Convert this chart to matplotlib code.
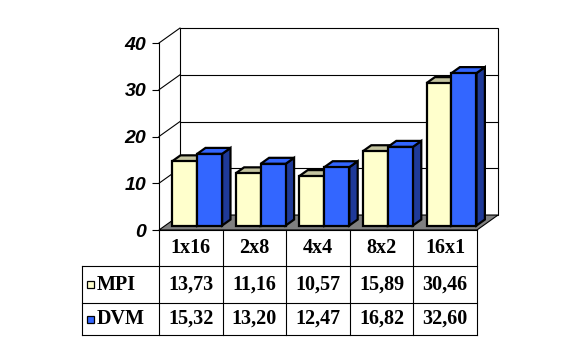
import matplotlib.pyplot as plt
from matplotlib.patches import Polygon, Rectangle
import numpy as np

categories = ['1x16', '2x8', '4x4', '8x2', '16x1']
series = ['MPI', 'DVM']
mpi = [13.73, 11.16, 10.57, 15.89, 30.46]
dvm = [15.32, 13.20, 12.47, 16.82, 32.60]
labels_mpi = ['13,73', '11,16', '10,57', '15,89', '30,46']
labels_dvm = ['15,32', '13,20', '12,47', '16,82', '32,60']
yticks = [0, 10, 20, 30, 40]

front = {'MPI': '#ffffcc', 'DVM': '#3366ff'}
top = {'MPI': '#c4c4a0', 'DVM': '#3366ff'}
side = {'MPI': '#9c9c7a', 'DVM': '#1f3a99'}

fig = plt.figure(figsize=(5.8, 3.62), dpi=100)
ax = fig.add_axes([159 / 580, 1 - 230 / 362, 318 / 580, 187 / 362])
ax.set_xlim(0, 5)
ax.set_ylim(0, 40)
ax.set_facecolor('none')

DX, DY = 0.33, 3.2   # depth of the plot box
d0, d1 = 0.3, 0.7    # bar depth within the box
bw = 0.393

# walls and floor
ax.add_patch(Rectangle((DX, DY), 5, 40, facecolor='white', edgecolor='black', lw=0.8, zorder=0, clip_on=False))
ax.add_patch(Polygon([(0, 0), (5, 0), (5 + DX, DY), (DX, DY)], closed=True,
                     facecolor='#808080', edgecolor='black', lw=0.8, zorder=1, clip_on=False))
for v in yticks[1:]:
    ax.plot([0, DX], [v, v + DY], color='black', lw=0.8, zorder=1, clip_on=False)
    if v < 40:
        ax.plot([DX, 5 + DX], [v + DY, v + DY], color='black', lw=0.8, zorder=1, clip_on=False)

# bars
for i in range(len(categories)):
    x0 = i + (1 - 2 * bw) / 2
    for j, (name, vals) in enumerate(zip(series, [mpi, dvm])):
        h = vals[i]
        bx = x0 + j * bw + d0 * DX
        by = d0 * DY
        ddx = (d1 - d0) * DX
        ddy = (d1 - d0) * DY
        kw = dict(edgecolor='black', lw=1.6, joinstyle='miter', zorder=3 + j, clip_on=False)
        ax.add_patch(Polygon([(bx + bw, by), (bx + bw + ddx, by + ddy), (bx + bw + ddx, by + h + ddy), (bx + bw, by + h)],
                             closed=True, facecolor=side[name], **kw))
        ax.add_patch(Polygon([(bx, by + h), (bx + bw, by + h), (bx + bw + ddx, by + h + ddy), (bx + ddx, by + h + ddy)],
                             closed=True, facecolor=top[name], **kw))
        ax.add_patch(Rectangle((bx, by), bw, h, facecolor=front[name], **kw))

# axis
for s in ['top', 'right', 'bottom']:
    ax.spines[s].set_visible(False)
ax.spines['left'].set_linewidth(0.8)
ax.set_xticks([])
ax.set_yticks(yticks)
ax.tick_params(axis='y', direction='out', length=5, width=0.8, pad=4)
for t in ax.get_yticklabels():
    t.set_fontfamily('Liberation Sans')
    t.set_fontweight('bold')
    t.set_fontstyle('italic')
    t.set_fontsize(14)

# data table below
ky = 187 / 40
r1, r2, r3 = -36 / ky, -73 / ky, -105 / ky
xl = -77 / 63.6
lk = dict(color='black', lw=0.8, clip_on=False)
ax.plot([0, 5], [0, 0], **lk)
for k in range(6):
    ax.plot([k, k], [0, r3], **lk)
for r in [r1, r2, r3]:
    ax.plot([xl, 5], [r, r], **lk)
ax.plot([xl, xl], [r1, r3], **lk)

tk = dict(fontfamily='Liberation Serif', fontweight='bold', fontsize=14.5, ha='center', va='center', clip_on=False)
for k, c in enumerate(categories):
    ax.text(k + 0.5, r1 / 2, c, **tk)
    ax.text(k + 0.5, (r1 + r2) / 2, labels_mpi[k], **tk)
    ax.text(k + 0.5, (r2 + r3) / 2, labels_dvm[k], **tk)

sq = 7 / 63.6
for name, yc in zip(series, [(r1 + r2) / 2, (r2 + r3) / 2]):
    ax.add_patch(Rectangle((xl + 5 / 63.6, yc - 3.5 / ky), sq, 7 / ky, facecolor=front[name],
                           edgecolor='black', lw=0.9, clip_on=False))
    ax.text(xl + 15 / 63.6, yc, name, fontfamily='Liberation Serif', fontweight='bold',
            fontsize=14.5, ha='left', va='center', clip_on=False)

fig.savefig('out.png', dpi=100)
